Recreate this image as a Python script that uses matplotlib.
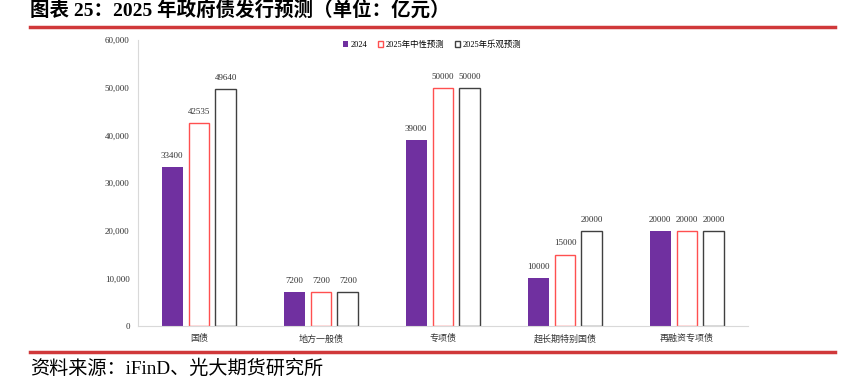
import matplotlib.pyplot as plt
import numpy as np

plt.rcParams['font.family'] = ['Liberation Serif', 'Noto Sans CJK SC']

categories = ['国债', '地方一般债', '专项债', '超长期特别国债', '再融资专项债']
v2024 = [33400, 7200, 39000, 10000, 20000]
v2025_mid = [42535, 7200, 50000, 15000, 20000]
v2025_opt = [49640, 7200, 50000, 20000, 20000]
series_names = ['2024', '2025年中性预测', '2025年乐观预测']

fig = plt.figure(figsize=(8.56, 3.78), dpi=100)

# title and red rules
fig.text(30/856, 1-10/378, '图表 25：2025 年政府债发行预测（单位：亿元）', fontsize=14,
         fontweight='bold', va='center', ha='left')
fig.add_artist(plt.Line2D([30/856, 835/856], [1-27/378, 1-27/378], color='#D0383A', lw=2.5))
fig.add_artist(plt.Line2D([30/856, 835/856], [1-352/378, 1-352/378], color='#D0383A', lw=2.5))
fig.text(30/856, 1-369/378, '资料来源：iFinD、光大期货研究所', fontsize=13.8, va='center', ha='left')

ax = fig.add_axes([138/856, 1-326/378, 610/856, 286/378])
x = np.arange(len(categories))
w = 0.172
off = 0.221
b1 = ax.bar(x - off, v2024, w, color='#7030A0', label=series_names[0])
b2 = ax.bar(x, v2025_mid, w, facecolor='white', edgecolor='#FF5050', lw=1, label=series_names[1])
b3 = ax.bar(x + off, v2025_opt, w, facecolor='white', edgecolor='#404040', lw=1, label=series_names[2])

for bars in (b1, b2, b3):
    for r in bars:
        ax.text(r.get_x() + r.get_width()/2, r.get_height() + 1500, f'{int(r.get_height())}',
                ha='center', va='bottom', fontsize=6.5, color='#333333')

ax.set_xlim(-0.5, len(categories) - 0.5)
ax.set_ylim(0, 60000)
ax.set_yticks(np.arange(0, 60001, 10000))
ax.set_yticklabels(['0' if t == 0 else f'{t:,}' for t in range(0, 60001, 10000)])
ax.set_xticks(x)
ax.set_xticklabels(categories)
ax.tick_params(axis='both', labelsize=6.5, length=0, colors='#333333', pad=6)
for s in ('top', 'right'):
    ax.spines[s].set_visible(False)
for s in ('left', 'bottom'):
    ax.spines[s].set_color('#D9D9D9')
    ax.spines[s].set_linewidth(0.8)

ax.legend(loc='upper center', bbox_to_anchor=(0.482, 1.025), ncol=3, frameon=False,
          fontsize=6, handlelength=0.7, handleheight=0.7, handletextpad=0.3, columnspacing=1.2)

fig.savefig('out.png', dpi=100)
